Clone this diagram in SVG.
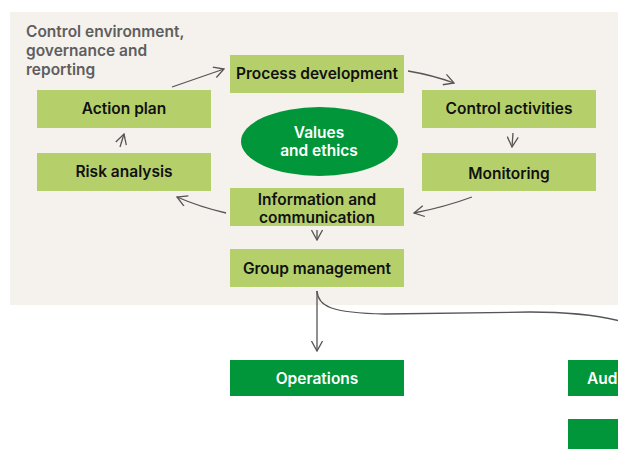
<svg xmlns="http://www.w3.org/2000/svg" width="618" height="449" viewBox="0 0 618 449">
<defs>
<style>
.lg{fill:#b5d06b}
.dg{fill:#009639}
.t{font-family:Inter,"Noto Sans",sans-serif;font-size:15.5px;font-weight:600;fill:#111;text-anchor:middle}
.w{fill:#fff}
.ttl{font-family:Inter,"Noto Sans",sans-serif;font-size:15.5px;font-weight:600;fill:#5e5e5e}
.c{fill:none;stroke:#555;stroke-width:1.3}
</style>
<marker id="ah" viewBox="0 0 12 12" refX="11" refY="6" markerWidth="12" markerHeight="12" markerUnits="userSpaceOnUse" orient="auto">
<path d="M1,0.5 L11,6 L1,11.5" fill="none" stroke="#555" stroke-width="1.3"/>
</marker>
</defs>
<rect x="0" y="0" width="618" height="449" fill="#fff"/>
<rect x="10" y="12" width="608" height="293" fill="#f5f1ec"/>
<text class="ttl"><tspan x="26" y="37">Control environment,</tspan><tspan x="26" y="56">governance and</tspan><tspan x="26" y="75">reporting</tspan></text>
<g id="process-development"><rect class="lg" x="230" y="55" width="174" height="38"/><text class="t" x="317" y="79">Process development</text></g>
<g id="action-plan"><rect class="lg" x="37" y="90" width="174" height="38"/><text class="t" x="124" y="114">Action plan</text></g>
<g id="control-activities"><rect class="lg" x="422" y="90" width="174" height="38"/><text class="t" x="509" y="114">Control activities</text></g>
<g id="values-ethics"><ellipse class="dg" cx="319.5" cy="141.5" rx="78.5" ry="34.5"/><text class="t w"><tspan x="319" y="138">Values</tspan><tspan x="319" y="156">and ethics</tspan></text></g>
<g id="risk-analysis"><rect class="lg" x="37" y="153" width="174" height="38"/><text class="t" x="124" y="177">Risk analysis</text></g>
<g id="monitoring"><rect class="lg" x="422" y="153" width="174" height="38"/><text class="t" x="509" y="179">Monitoring</text></g>
<g id="information-communication"><rect class="lg" x="230" y="188" width="174" height="38"/><text class="t"><tspan x="317" y="205">Information and</tspan><tspan x="317" y="223">communication</tspan></text></g>
<g id="group-management"><rect class="lg" x="230" y="249" width="174" height="38"/><text class="t" x="317" y="274">Group management</text></g>
<g id="operations"><rect class="dg" x="230" y="360" width="174" height="36"/><text class="t w" x="317" y="384">Operations</text></g>
<g id="audit"><rect class="dg" x="568" y="360" width="60" height="36"/><text class="t w" x="587" y="384" style="text-anchor:start">Aud</text></g>
<g id="lower-right"><rect class="dg" x="568" y="419" width="60" height="30"/></g>
<g id="connectors">
<path class="c" d="M172,87 L224,69" marker-end="url(#ah)"/>
<path class="c" d="M408,71 Q432,75 454,83" marker-end="url(#ah)"/>
<path class="c" d="M513,133 L512,147" marker-end="url(#ah)"/>
<path class="c" d="M472,197 Q445,207 414,213" marker-end="url(#ah)"/>
<path class="c" d="M226,213 Q200,207 177,197" marker-end="url(#ah)"/>
<path class="c" d="M120,147 L124,134" marker-end="url(#ah)"/>
<path class="c" d="M317,230 L317,240" marker-end="url(#ah)"/>
<path class="c" d="M317,291 L317,351" marker-end="url(#ah)"/>
<path class="c" d="M317,291 C318,306 330,313 385,314 L530,312 C570,312 600,316 620,321"/>
</g>
</svg>
